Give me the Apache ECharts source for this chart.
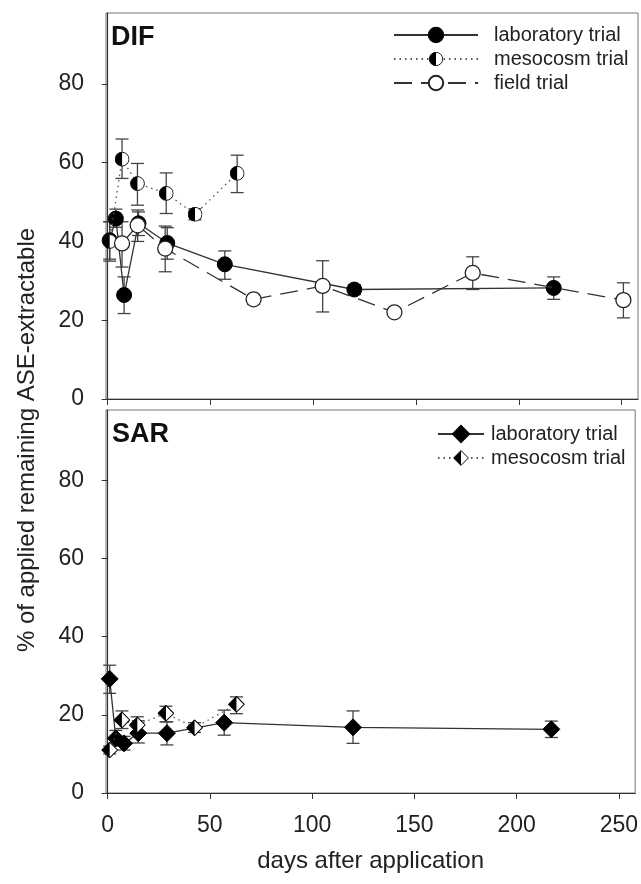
<!DOCTYPE html>
<html>
<head>
<meta charset="utf-8">
<script src="https://cdn.jsdelivr.net/npm/echarts@6/dist/echarts.min.js"></script>
<style>
  html, body { margin: 0; padding: 0; background: #fff; }
  #chart { width: 641px; height: 884px; }
</style>
</head>
<body>
<div id="chart"></div>
<script>
// tick labels
const xTicks = [0, 50, 100, 150, 200, 250];
const yTicks = [0, 20, 40, 60, 80];

// DIF - laboratory trial
const difLabDays = [1, 4, 8, 15, 29, 57, 120, 217];
const difLabVals = [40.3, 45.8, 26.4, 44.6, 39.6, 34.2, 27.8, 28.2];
const difLabLow = [35.5, 43.6, 21.7, 41.5, 35.5, 30.4, 26.5, 25.3];
const difLabHigh = [45, 48.2, 31, 47.5, 43.5, 37.6, 29, 31];

// DIF - mesocosm trial
const difMesoDays = [1, 7, 14.5, 28.5, 42.5, 63];
const difMesoVals = [40, 60.9, 54.7, 52.2, 46.9, 57.3];
const difMesoLow = [35, 56, 49.2, 47.1, 45.5, 52.4];
const difMesoHigh = [45, 66, 59.8, 57.4, 48.3, 61.9];

// DIF - field trial
const difFieldDays = [7, 14.6, 28, 71, 104.6, 139.5, 177.6, 250.9];
const difFieldVals = [39.5, 44.1, 38.2, 25.3, 28.7, 22, 32, 25.1];
const difFieldLow = [33.5, 40, 32.3, 24, 22.1, 21, 27.8, 20.6];
const difFieldHigh = [45, 48, 43.9, 26.5, 35.1, 23, 36.1, 29.5];

// SAR - laboratory trial
const sarLabDays = [1, 4, 8, 15, 29, 57, 120, 217];
const sarLabVals = [29.2, 14, 12.7, 15.3, 15.3, 18, 16.8, 16.3];
const sarLabLow = [25.5, 12, 11, 12.8, 12.3, 14.8, 12.7, 14.2];
const sarLabHigh = [32.7, 16, 14.5, 18.5, 18.2, 21.2, 21, 18.4];

// SAR - mesocosm trial
const sarMesoDays = [1, 7, 14.5, 28.5, 42.5, 63];
const sarMesoVals = [11, 18.7, 17.4, 20.4, 16.7, 22.7];
const sarMesoLow = [10, 16.5, 15.5, 18.2, 15.5, 20.3];
const sarMesoHigh = [12, 21, 19.5, 22.2, 18, 24.6];

const FONT = "'Liberation Sans', Arial, sans-serif";

function pts(days, vals) {
  return days.map((d, i) => [d, vals[i]]);
}
function errs(days, lo, hi) {
  return days.map((d, i) => [d, lo[i], hi[i]]);
}

function svgSymbol(svg) {
  return "image://data:image/svg+xml;charset=utf-8," + encodeURIComponent(svg);
}
const halfCircle = svgSymbol(
  "<svg xmlns='http://www.w3.org/2000/svg' width='40' height='40' viewBox='0 0 40 40'>" +
  "<circle cx='20' cy='20' r='18.5' fill='white' stroke='black' stroke-width='2.4'/>" +
  "<path d='M20 1.5 A18.5 18.5 0 0 0 20 38.5 Z' fill='black'/></svg>"
);
const halfDiamond = svgSymbol(
  "<svg xmlns='http://www.w3.org/2000/svg' width='40' height='40' viewBox='0 0 40 40'>" +
  "<polygon points='20,1.5 38.5,20 20,38.5 1.5,20' fill='white' stroke='black' stroke-width='2.4'/>" +
  "<polygon points='20,1.5 1.5,20 20,38.5' fill='black'/></svg>"
);

// error bars with caps
function errorBar(params, api) {
  const x = api.value(0);
  const lo = api.coord([x, api.value(1)]);
  const hi = api.coord([x, api.value(2)]);
  const w = 6.5;
  const style = { stroke: "#444", lineWidth: 1.3 };
  return {
    type: "group",
    children: [
      { type: "line", shape: { x1: lo[0], y1: lo[1], x2: hi[0], y2: hi[1] }, style: style },
      { type: "line", shape: { x1: lo[0] - w, y1: lo[1], x2: lo[0] + w, y2: lo[1] }, style: style },
      { type: "line", shape: { x1: hi[0] - w, y1: hi[1], x2: hi[0] + w, y2: hi[1] }, style: style }
    ]
  };
}

function errSeries(idx, data) {
  return {
    type: "custom",
    xAxisIndex: idx,
    yAxisIndex: idx,
    renderItem: errorBar,
    encode: { x: 0, y: [1, 2] },
    data: data,
    z: 1,
    silent: true
  };
}

function xAxis(idx, withLabels) {
  const ax = {
    gridIndex: idx,
    type: "value",
    min: -0.8,
    max: 258,
    axisLine: { show: true, lineStyle: { color: "#333", width: 1.2 } },
    axisTick: { show: true, length: 6, customValues: xTicks, lineStyle: { color: "#333" } },
    axisLabel: {
      show: withLabels,
      customValues: xTicks,
      fontSize: 23,
      color: "#222",
      fontFamily: FONT,
      margin: 21
    },
    splitLine: { show: false }
  };
  if (withLabels) {
    ax.name = "days after application";
    ax.nameLocation = "middle";
    ax.nameGap = 56;
    ax.nameTextStyle = { fontSize: 24, color: "#222", fontFamily: FONT };
  }
  return ax;
}

function yAxis(idx) {
  return {
    gridIndex: idx,
    type: "value",
    min: 0,
    max: 98,
    axisLine: { show: true, lineStyle: { color: "#333", width: 1.2 } },
    axisTick: { show: true, length: 6, customValues: yTicks, lineStyle: { color: "#333" } },
    axisLabel: {
      customValues: yTicks,
      fontSize: 23,
      color: "#222",
      fontFamily: FONT,
      margin: 22
    },
    splitLine: { show: false }
  };
}

const option = {
  animation: false,
  backgroundColor: "#fff",
  grid: [
    { left: 106, top: 13, width: 532, height: 386, show: true, borderColor: "#777", borderWidth: 1 },
    { left: 106, top: 410, width: 532, height: 383, show: true, borderColor: "#777", borderWidth: 1 }
  ],
  xAxis: [xAxis(0, false), xAxis(1, true)],
  yAxis: [yAxis(0), yAxis(1)],
  legend: [
    {
      orient: "vertical",
      left: 388,
      top: 20,
      itemWidth: 84,
      itemHeight: 18,
      itemGap: 4,
      data: ["laboratory trial", "mesocosm trial", "field trial"],
      textStyle: { fontSize: 20, color: "#222", fontFamily: FONT, lineHeight: 20, padding: [0, 0, 0, 11] },
      selectedMode: false
    },
    {
      orient: "vertical",
      left: 432,
      top: 419,
      itemWidth: 46,
      itemHeight: 20,
      itemGap: 4,
      data: ["laboratory trial (SAR)", "mesocosm trial (SAR)"],
      formatter: (name) => name.replace(" (SAR)", ""),
      textStyle: { fontSize: 20, color: "#222", fontFamily: FONT, lineHeight: 20, padding: [0, 0, 0, 2] },
      selectedMode: false
    }
  ],
  graphic: [
    {
      type: "text", x: 111, y: 37.5,
      style: { text: "DIF", font: "bold 27px " + FONT, fill: "#111", textVerticalAlign: "middle" }
    },
    {
      type: "text", x: 112, y: 435,
      style: { text: "SAR", font: "bold 27px " + FONT, fill: "#111", textVerticalAlign: "middle" }
    },
    {
      type: "text", x: 27, y: 440, rotation: Math.PI / 2,
      style: {
        text: "% of applied remaining ASE-extractable",
        font: "24px " + FONT, fill: "#222",
        textAlign: "center", textVerticalAlign: "middle"
      }
    }
  ],
  series: [
    errSeries(0, errs(difLabDays, difLabLow, difLabHigh)),
    errSeries(0, errs(difMesoDays, difMesoLow, difMesoHigh)),
    errSeries(0, errs(difFieldDays, difFieldLow, difFieldHigh)),
    errSeries(1, errs(sarLabDays, sarLabLow, sarLabHigh)),
    errSeries(1, errs(sarMesoDays, sarMesoLow, sarMesoHigh)),
    {
      name: "laboratory trial",
      type: "line",
      xAxisIndex: 0, yAxisIndex: 0,
      data: pts(difLabDays, difLabVals),
      symbol: "circle",
      symbolSize: 15,
      itemStyle: { color: "#000", borderColor: "#000", borderWidth: 1 },
      lineStyle: { color: "#333", width: 1.3, type: "solid" },
      z: 3
    },
    {
      name: "mesocosm trial",
      type: "line",
      xAxisIndex: 0, yAxisIndex: 0,
      data: pts(difMesoDays, difMesoVals),
      symbol: halfCircle,
      symbolSize: 15,
      itemStyle: { color: "#000" },
      lineStyle: { color: "#555", width: 1.3, type: [1.5, 4] },
      z: 4
    },
    {
      name: "field trial",
      type: "line",
      xAxisIndex: 0, yAxisIndex: 0,
      data: pts(difFieldDays, difFieldVals),
      symbol: "circle",
      symbolSize: 15,
      itemStyle: { color: "#fff", borderColor: "#222", borderWidth: 1.3 },
      lineStyle: { color: "#333", width: 1.3, type: [18, 9] },
      z: 5
    },
    {
      name: "laboratory trial (SAR)",
      type: "line",
      xAxisIndex: 1, yAxisIndex: 1,
      data: pts(sarLabDays, sarLabVals),
      symbol: "diamond",
      symbolSize: 17,
      itemStyle: { color: "#000", borderColor: "#000", borderWidth: 1 },
      lineStyle: { color: "#333", width: 1.3, type: "solid" },
      z: 3
    },
    {
      name: "mesocosm trial (SAR)",
      type: "line",
      xAxisIndex: 1, yAxisIndex: 1,
      data: pts(sarMesoDays, sarMesoVals),
      symbol: halfDiamond,
      symbolSize: 17,
      itemStyle: { color: "#000" },
      lineStyle: { color: "#555", width: 1.3, type: [1.5, 4] },
      z: 4
    }
  ]
};

const myChart = echarts.init(document.getElementById("chart"));
myChart.setOption(option);
window.addEventListener("resize", function () {
  myChart.resize();
});
</script>
</body>
</html>
